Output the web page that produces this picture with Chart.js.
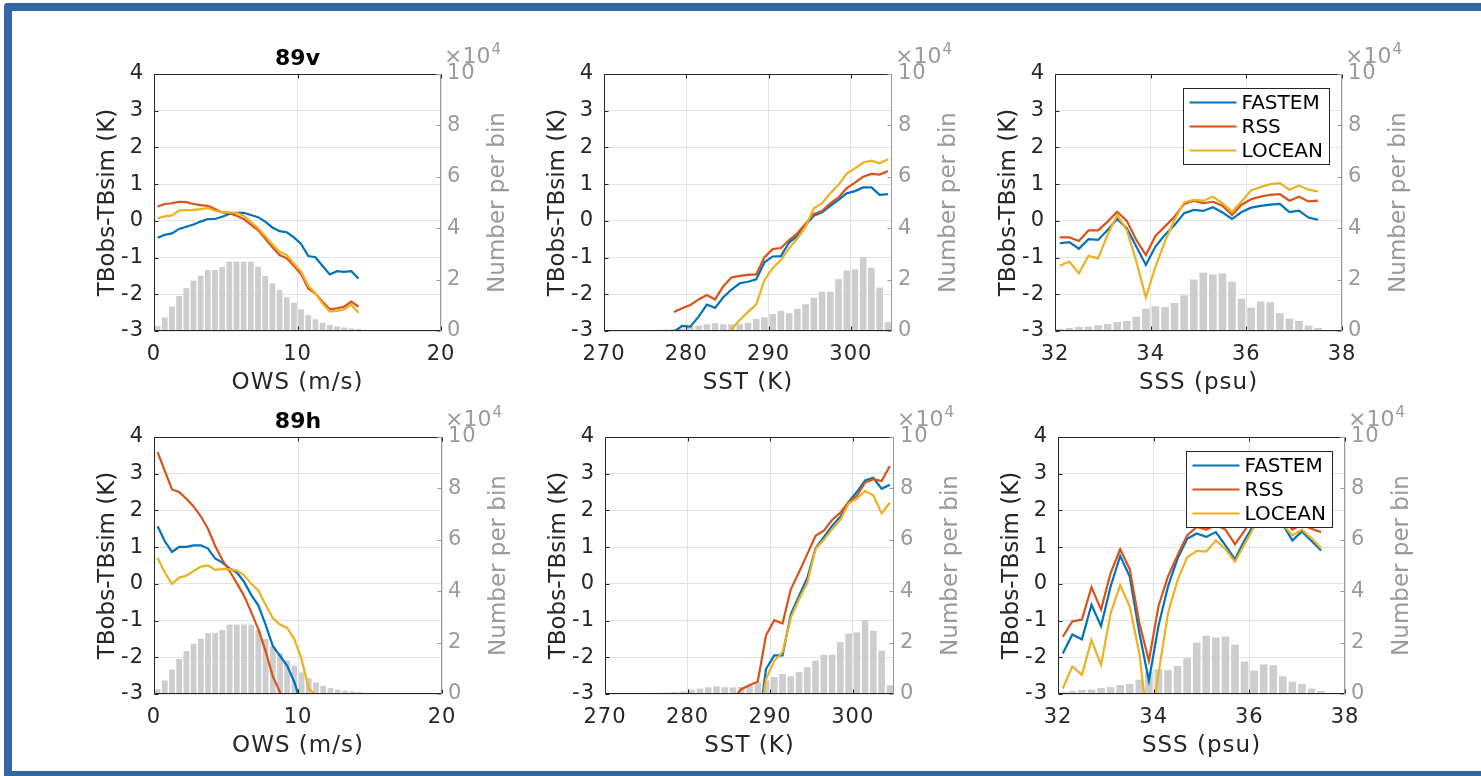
<!DOCTYPE html>
<html>
<head>
<meta charset="utf-8">
<title>TB residuals vs OWS, SST, SSS</title>
<script src="https://cdn.jsdelivr.net/npm/chart.js@4.4.1/dist/chart.umd.min.js"></script>
<style>
  html, body { margin: 0; padding: 0; overflow: hidden; background: #fff; }
  body { width: 1481px; height: 776px; position: relative; }
  #frame {
    position: absolute; left: 4px; top: 3px; width: 1500px; height: 773px;
    box-sizing: border-box;
    border-left: 8px solid #3465a4; border-top: 8px solid #3465a4; border-bottom: 5px solid #3465a4;
    border-top-left-radius: 4px;
  }
  canvas { position: absolute; }
</style>
</head>
<body>
<div id="frame"></div>
<script>
// ---- wind speed (OWS) bins, counts in units of 1e4 ----
const owsBins = [0.25, 0.75, 1.25, 1.75, 2.25, 2.75, 3.25, 3.75, 4.25, 4.75, 5.25, 5.75,
  6.25, 6.75, 7.25, 7.75, 8.25, 8.75, 9.25, 9.75, 10.25, 10.75, 11.25, 11.75,
  12.25, 12.75, 13.25, 13.75, 14.25, 14.75, 15.25, 15.75, 16.25, 16.75];
const owsCount = [0.19, 0.53, 0.95, 1.36, 1.67, 1.96, 2.15, 2.37, 2.37, 2.49, 2.70, 2.70,
  2.70, 2.70, 2.50, 2.14, 1.85, 1.60, 1.31, 1.10, 0.84, 0.62, 0.45, 0.32,
  0.23, 0.17, 0.13, 0.10, 0.08, 0.05, 0.04, 0.03, 0.015, 0.01];

// 89v, OWS
const owsFastem89v = [-0.46, -0.38, -0.34, -0.22, -0.16, -0.10, -0.02, 0.05, 0.05, 0.11, 0.19, 0.22,
  0.22, 0.16, 0.10, -0.02, -0.18, -0.28, -0.31, -0.45, -0.63, -0.96, -0.99, -1.23, -1.46, -1.37, -1.39, -1.37, -1.57];
const owsRss89v = [0.39, 0.46, 0.48, 0.52, 0.51, 0.46, 0.43, 0.41, 0.32, 0.23, 0.21, 0.14,
  0.05, -0.10, -0.25, -0.48, -0.72, -0.93, -1.02, -1.23, -1.45, -1.84, -1.98, -2.20, -2.41, -2.38, -2.34, -2.20, -2.34];
const owsLocean89v = [0.07, 0.12, 0.15, 0.28, 0.29, 0.30, 0.32, 0.35, 0.28, 0.24, 0.23, 0.22,
  0.14, -0.02, -0.20, -0.41, -0.64, -0.84, -0.93, -1.16, -1.38, -1.77, -1.98, -2.25, -2.47, -2.45, -2.41, -2.29, -2.50];

// 89h, OWS
const owsFastem89h = [1.57, 1.16, 0.87, 1.01, 1.01, 1.05, 1.05, 0.96, 0.69, 0.58, 0.42, 0.31,
  0.06, -0.30, -0.59, -1.11, -1.69, -1.96, -2.23, -2.68, -3.3];
const owsRss89h = [3.59, 3.08, 2.57, 2.50, 2.32, 2.11, 1.84, 1.50, 1.03, 0.65, 0.35, 0.02,
  -0.32, -0.77, -1.24, -1.83, -2.52, -2.95, -3.6];
const owsLocean89h = [0.71, 0.31, 0.00, 0.17, 0.22, 0.35, 0.47, 0.50, 0.38, 0.40, 0.40, 0.36,
  0.24, 0.00, -0.18, -0.57, -0.93, -1.11, -1.20, -1.51, -2.05, -2.86, -3.02, -3.6];

// ---- sea surface temperature (SST) bins ----
const sstBins = [272.5, 273.5, 274.5, 275.5, 276.5, 277.5, 278.5, 279.5, 280.5, 281.5, 282.5,
  283.5, 284.5, 285.5, 286.5, 287.5, 288.5, 289.5, 290.5, 291.5, 292.5, 293.5, 294.5,
  295.5, 296.5, 297.5, 298.5, 299.5, 300.5, 301.5, 302.5, 303.5, 304.5];
const sstCount = [0.02, 0.03, 0.04, 0.04, 0.05, 0.06, 0.08, 0.10, 0.17, 0.21, 0.26,
  0.30, 0.26, 0.26, 0.27, 0.32, 0.47, 0.53, 0.66, 0.78, 0.69, 0.86, 1.04,
  1.30, 1.53, 1.53, 2.02, 2.35, 2.40, 2.87, 2.46, 1.69, 0.34];
const sstLineX = [278.5, 279.5, 280.5, 281.5, 282.5, 283.5, 284.5, 285.5, 286.5, 287.5, 288.5,
  289.5, 290.5, 291.5, 292.5, 293.5, 294.5, 295.5, 296.5, 297.5, 298.5, 299.5, 300.5,
  301.5, 302.5, 303.5, 304.5];

// 89v, SST
const sstFastem89v = [-3.02, -2.86, -2.88, -2.61, -2.28, -2.37, -2.08, -1.87, -1.70, -1.66, -1.59,
  -1.13, -0.97, -0.96, -0.59, -0.41, -0.11, 0.14, 0.23, 0.41, 0.57, 0.75, 0.81, 0.91, 0.91, 0.71, 0.73];
const sstRss89v = [-2.48, -2.38, -2.29, -2.14, -2.02, -2.14, -1.78, -1.54, -1.50, -1.47, -1.46,
  -0.99, -0.77, -0.74, -0.52, -0.34, -0.08, 0.19, 0.27, 0.48, 0.64, 0.89, 1.04, 1.20, 1.28, 1.26, 1.36];
const sstLocean89v = [null, null, null, null, null, null, -3.4, -2.95, -2.70, -2.48, -2.28,
  -1.61, -1.29, -1.07, -0.75, -0.48, -0.16, 0.34, 0.48, 0.75, 0.98, 1.29, 1.43, 1.59, 1.64, 1.57, 1.68];

// 89h, SST
const sstFastem89h = [null, null, null, null, null, null, null, null, null, null, -4.0,
  -2.32, -1.95, -1.95, -0.83, -0.33, 0.16, 0.97, 1.27, 1.58, 1.83, 2.23, 2.50, 2.82, 2.89, 2.59, 2.70];
const sstRss89h = [null, null, null, null, null, null, null, -3.15, -2.87, -2.76, -2.66,
  -1.40, -0.99, -1.08, -0.15, 0.32, 0.81, 1.31, 1.45, 1.74, 1.94, 2.23, 2.39, 2.76, 2.85, 2.80, 3.21];
const sstLocean89h = [null, null, null, null, null, null, null, null, null, null, -3.96,
  -2.59, -2.09, -1.86, -0.92, -0.42, 0.03, 0.95, 1.20, 1.49, 1.74, 2.19, 2.32, 2.53, 2.41, 1.92, 2.21];

// ---- sea surface salinity (SSS) bins ----
const sssBins = [32.1, 32.3, 32.5, 32.7, 32.9, 33.1, 33.3, 33.5, 33.7, 33.9, 34.1, 34.3, 34.5, 34.7, 34.9,
  35.1, 35.3, 35.5, 35.7, 35.9, 36.1, 36.3, 36.5, 36.7, 36.9, 37.1, 37.3, 37.5, 37.7, 37.9];
const sssCount = [0.08, 0.12, 0.16, 0.17, 0.23, 0.27, 0.35, 0.39, 0.56, 0.87, 0.96, 0.93, 1.09, 1.39, 2.00,
  2.27, 2.20, 2.24, 1.92, 1.26, 0.91, 1.15, 1.12, 0.69, 0.48, 0.39, 0.21, 0.12, 0.04, 0.01];

// 89v, SSS
const sssFastem89v = [-0.61, -0.58, -0.76, -0.50, -0.52, -0.25, 0.05, -0.20, -0.70, -1.20, -0.70, -0.38, -0.11, 0.21,
  0.30, 0.27, 0.37, 0.23, 0.05, 0.24, 0.36, 0.41, 0.44, 0.46, 0.24, 0.28, 0.09, 0.03];
const sssRss89v = [-0.45, -0.45, -0.55, -0.26, -0.26, -0.02, 0.25, 0.00, -0.52, -0.93, -0.41, -0.15, 0.12, 0.46,
  0.55, 0.48, 0.52, 0.41, 0.16, 0.44, 0.59, 0.66, 0.71, 0.73, 0.55, 0.66, 0.53, 0.55];
const sssLocean89v = [-1.22, -1.11, -1.43, -0.95, -1.03, -0.38, 0.16, -0.25, -1.11, -2.09, -1.25, -0.56, 0.03, 0.50,
  0.57, 0.55, 0.66, 0.48, 0.25, 0.53, 0.83, 0.92, 1.00, 1.03, 0.85, 0.96, 0.85, 0.80];

// 89h, SSS
const sssFastem89h = [-1.90, -1.38, -1.51, -0.57, -1.15, -0.07, 0.76, 0.20, -1.33, -2.64, -1.15, -0.07, 0.69, 1.23,
  1.37, 1.28, 1.41, 1.05, 0.67, 1.19, 1.62, 1.80, 1.90, 1.62, 1.18, 1.43, 1.17, 0.91];
const sssRss89h = [-1.44, -1.02, -0.97, -0.09, -0.70, 0.29, 0.94, 0.40, -1.06, -2.10, -0.61, 0.20, 0.78, 1.32,
  1.55, 1.48, 1.60, 1.48, 1.08, 1.45, 1.85, 2.00, 2.10, 1.80, 1.48, 1.62, 1.50, 1.41];
const sssLocean89h = [-2.85, -2.25, -2.48, -1.53, -2.21, -0.80, -0.03, -0.62, -1.89, -4.1, -2.45, -0.80, 0.10, 0.72,
  0.90, 0.88, 1.18, 0.95, 0.60, 1.08, 1.55, 1.75, 1.85, 1.62, 1.32, 1.48, 1.24, 0.97];

const FONT = "'DejaVu Sans', sans-serif";
const AXIS = '#262626';
const AXIS2 = '#9a9a9a';
Chart.defaults.font.family = FONT;

function pts(xs, ys) {
  return ys.map((y, i) => ({ x: xs[i], y: y })).filter(p => p.y !== null);
}

// frame, inward ticks, titles, x10^4 marker and in-axes legend
const framePlugin = {
  id: 'frame',
  beforeDraw(chart) {
    // horizontal labels are drawn a touch wider
    chart.ctx.letterSpacing = '1px';
  },
  afterDraw(chart, args, opts) {
    const ctx = chart.ctx, a = chart.chartArea;
    const sx = chart.scales.x, sy = chart.scales.y, sy2 = chart.scales.y2;
    const L = Math.round(a.left) + 0.5, R = Math.round(a.right) - 0.5;
    const T = Math.round(a.top) + 0.5, B = Math.round(a.bottom) - 0.5;
    ctx.save();
    ctx.letterSpacing = '0px';
    ctx.lineWidth = 1;

    ctx.strokeStyle = AXIS;
    ctx.beginPath();
    sy.ticks.forEach(t => {
      const y = Math.round(sy.getPixelForValue(t.value)) + 0.5;
      ctx.moveTo(L, y); ctx.lineTo(L + 4, y);
    });
    sx.ticks.forEach(t => {
      const x = Math.round(sx.getPixelForValue(t.value)) + 0.5;
      ctx.moveTo(x, B); ctx.lineTo(x, B - 4);
      ctx.moveTo(x, T); ctx.lineTo(x, T + 4);
    });
    ctx.moveTo(L, T); ctx.lineTo(L, B); ctx.lineTo(R, B);
    ctx.moveTo(L, T); ctx.lineTo(R, T);
    ctx.stroke();

    ctx.strokeStyle = AXIS2;
    ctx.beginPath();
    sy2.ticks.forEach(t => {
      const y = Math.round(sy2.getPixelForValue(t.value)) + 0.5;
      ctx.moveTo(R, y); ctx.lineTo(R - 4, y);
    });
    ctx.moveTo(R, T); ctx.lineTo(R, B);
    ctx.stroke();

    // vertical axis labels, both reading bottom to top
    const midY = (a.top + a.bottom) / 2;
    ctx.font = '23px ' + FONT;
    ctx.textAlign = 'center';
    ctx.textBaseline = 'middle';
    [[a.left - 46, 'TBobs-TBsim (K)', AXIS], [a.right + 57, 'Number per bin', AXIS2]].forEach(([x, txt, col]) => {
      ctx.save();
      ctx.translate(x, midY);
      ctx.rotate(-Math.PI / 2);
      ctx.fillStyle = col;
      ctx.fillText(txt, 0, 0);
      ctx.restore();
    });

    // exponent marker for the count axis
    ctx.fillStyle = AXIS2;
    ctx.textAlign = 'left';
    ctx.textBaseline = 'alphabetic';
    ctx.font = '22px ' + FONT;
    ctx.fillText('\u00d710', a.right + 3, a.top - 11);
    const w = ctx.measureText('\u00d710').width;
    ctx.font = '15px ' + FONT;
    ctx.fillText('4', a.right + 4 + w, a.top - 20);

    if (opts.title) {
      ctx.fillStyle = '#000';
      ctx.font = 'bold 22px ' + FONT;
      ctx.textAlign = 'center';
      ctx.fillText(opts.title, (a.left + a.right) / 2, a.top - 9);
    }

    if (opts.legend) {
      const bw = 146, bh = 76;
      const bx = Math.round(a.right - 13 - bw) + 0.5, by = Math.round(a.top + 14) + 0.5;
      ctx.fillStyle = '#fff';
      ctx.fillRect(bx, by, bw, bh);
      ctx.strokeStyle = AXIS;
      ctx.strokeRect(bx, by, bw, bh);
      ctx.font = '20px ' + FONT;
      ctx.textAlign = 'left';
      ctx.textBaseline = 'middle';
      chart.data.datasets.filter(d => d.type === 'line').forEach((d, i) => {
        const y = by + 14 + i * 24;
        ctx.strokeStyle = d.borderColor;
        ctx.lineWidth = 2.2;
        ctx.beginPath();
        ctx.moveTo(bx + 6, y); ctx.lineTo(bx + 53, y);
        ctx.stroke();
        ctx.fillStyle = '#000';
        ctx.fillText(d.label, bx + 58, y + 1);
      });
    }
    ctx.restore();
  }
};

const panels = [
  { plot: [154, 74, 441, 331], title: '89v', xLabel: 'OWS (m/s)', xMin: 0, xMax: 20, xStep: 10,
    bins: owsBins, counts: owsCount, lineX: owsBins,
    fastem: owsFastem89v, rss: owsRss89v, locean: owsLocean89v },
  { plot: [604, 74, 892, 331], xLabel: 'SST (K)', xMin: 270, xMax: 305, xStep: 10,
    bins: sstBins, counts: sstCount, lineX: sstLineX,
    fastem: sstFastem89v, rss: sstRss89v, locean: sstLocean89v },
  { plot: [1055, 74, 1342, 331], xLabel: 'SSS (psu)', xMin: 32, xMax: 38, xStep: 2, legend: true,
    bins: sssBins, counts: sssCount, lineX: sssBins,
    fastem: sssFastem89v, rss: sssRss89v, locean: sssLocean89v },
  { plot: [154, 437, 442, 694], title: '89h', xLabel: 'OWS (m/s)', xMin: 0, xMax: 20, xStep: 10,
    bins: owsBins, counts: owsCount, lineX: owsBins,
    fastem: owsFastem89h, rss: owsRss89h, locean: owsLocean89h },
  { plot: [605, 437, 894, 694], xLabel: 'SST (K)', xMin: 270, xMax: 305, xStep: 10,
    bins: sstBins, counts: sstCount, lineX: sstLineX,
    fastem: sstFastem89h, rss: sstRss89h, locean: sstLocean89h },
  { plot: [1058, 437, 1345, 694], xLabel: 'SSS (psu)', xMin: 32, xMax: 38, xStep: 2, legend: true,
    bins: sssBins, counts: sssCount, lineX: sssBins,
    fastem: sssFastem89h, rss: sssRss89h, locean: sssLocean89h }
];

function lineSet(label, color, order, xs, ys) {
  return {
    type: 'line', label: label, data: pts(xs, ys), yAxisID: 'y', order: order,
    borderColor: color, borderWidth: 2.2, pointRadius: 0, tension: 0, clip: 0
  };
}

function makePanel(p) {
  const [L, T, R, B] = p.plot;
  const W = R - L + 150, H = B - T + 110;
  const cv = document.createElement('canvas');
  cv.width = W; cv.height = H;
  cv.style.left = (L - 70) + 'px';
  cv.style.top = (T - 40) + 'px';
  cv.style.width = W + 'px';
  cv.style.height = H + 'px';
  document.body.appendChild(cv);

  const step = p.xStep;
  new Chart(cv.getContext('2d'), {
    type: 'line',
    data: {
      datasets: [
        lineSet('FASTEM', '#0072BD', 3, p.lineX, p.fastem),
        lineSet('RSS', '#D95319', 2, p.lineX, p.rss),
        lineSet('LOCEAN', '#EDB120', 1, p.lineX, p.locean),
        {
          type: 'bar', label: 'count', data: pts(p.bins, p.counts), yAxisID: 'y2', order: 4,
          backgroundColor: '#cdcdcd', borderWidth: 0, barPercentage: 0.8, categoryPercentage: 1.0
        }
      ]
    },
    options: {
      responsive: false,
      animation: false,
      devicePixelRatio: 1,
      layout: { padding: { top: 40, left: 0, right: 0, bottom: 0 } },
      plugins: {
        legend: { display: false },
        tooltip: { enabled: false },
        frame: { title: p.title || '', legend: !!p.legend }
      },
      scales: {
        x: {
          type: 'linear', min: p.xMin, max: p.xMax, offset: false,
          // ticks only on whole multiples of the step, from min upward
          afterBuildTicks: s => {
            const t = [];
            for (let v = Math.ceil(p.xMin / step) * step; v <= p.xMax + 1e-9; v += step) t.push({ value: v });
            s.ticks = t;
          },
          afterFit: s => { s.height = 70; },
          ticks: { stepSize: step, color: AXIS, font: { size: 21 }, padding: 11, maxRotation: 0, autoSkip: false },
          grid: { color: '#e3e3e3', drawTicks: false, offset: false },
          border: { display: false },
          title: { display: true, text: p.xLabel, color: AXIS, font: { size: 23 }, padding: { top: 0, bottom: 4 } }
        },
        y: {
          position: 'left', min: -3, max: 4,
          afterFit: s => { s.width = 70; },
          ticks: { stepSize: 1, color: AXIS, font: { size: 21 }, padding: 10 },
          grid: { color: '#e3e3e3', drawTicks: false },
          border: { display: false }
        },
        y2: {
          position: 'right', min: 0, max: 10,
          afterFit: s => { s.width = 80; },
          ticks: { stepSize: 2, color: AXIS2, font: { size: 21 }, padding: 6 },
          grid: { display: false, drawTicks: false },
          border: { display: false }
        }
      }
    },
    plugins: [framePlugin]
  });
}

panels.forEach(makePanel);
</script>
</body>
</html>
